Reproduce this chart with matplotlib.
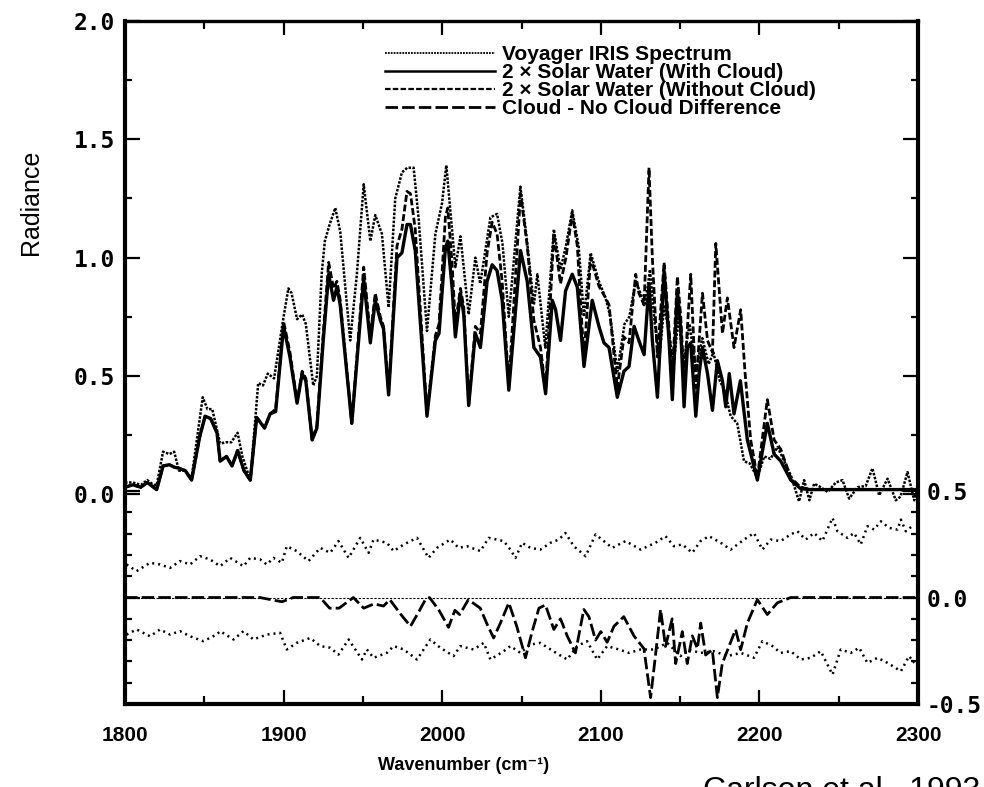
import numpy as np
import matplotlib
matplotlib.use("Agg")
import matplotlib.pyplot as plt
from matplotlib.lines import Line2D

# upper panel: radiance vs wavenumber (left axis)
iris = [
    (1800, 0.05), (1805, 0.05), (1810, 0.04), (1814, 0.06), (1818, 0.04), (1820, 0.04),
    (1824, 0.18), (1828, 0.17), (1831, 0.18), (1834, 0.10), (1838, 0.10), (1842, 0.07),
    (1849, 0.41), (1852, 0.36), (1855, 0.36), (1860, 0.215), (1864, 0.22), (1867, 0.22),
    (1871, 0.26), (1874, 0.16), (1879, 0.06), (1884, 0.47), (1887, 0.46), (1890, 0.51),
    (1894, 0.49), (1900, 0.75), (1903, 0.87), (1905, 0.85), (1908.5, 0.74), (1911.7, 0.76),
    (1914, 0.72), (1918.7, 0.46), (1921, 0.50), (1924, 0.93), (1926, 1.07), (1929, 1.14),
    (1932.6, 1.21), (1935.7, 1.11), (1942, 0.65), (1946.2, 0.93), (1950.5, 1.31),
    (1954.7, 1.07), (1957.8, 1.18), (1962, 1.10), (1966.2, 0.79), (1970.4, 1.25),
    (1974.6, 1.36), (1978, 1.38), (1982, 1.38), (1985.2, 1.16), (1990.4, 0.69),
    (1995.7, 1.10), (1999.9, 1.23), (2002.6, 1.39), (2005, 1.21), (2008.3, 0.96),
    (2011.5, 1.09), (2016.7, 0.76), (2020.9, 1.00), (2024, 0.89), (2030.4, 1.17),
    (2034.6, 1.185), (2038, 1.06), (2042, 0.75), (2049.3, 1.30), (2053, 1.10),
    (2057.8, 0.80), (2060, 0.93), (2065, 0.62), (2070.4, 1.12), (2074.6, 0.95),
    (2078, 1.05), (2082, 1.20), (2086, 1.05), (2089.4, 0.75), (2093.6, 1.02),
    (2098.8, 0.90), (2103, 0.83), (2106, 0.75), (2110.4, 0.52), (2115, 0.72),
    (2118, 0.75), (2122, 0.90), (2125, 0.85), (2128, 0.80), (2131, 0.95), (2134, 0.72),
    (2137, 0.58), (2140, 0.80), (2143, 0.68), (2146, 0.55), (2149, 0.75), (2152, 0.55),
    (2156, 0.72), (2160, 0.52), (2164, 0.66), (2168, 0.55), (2171, 0.60), (2175, 0.48),
    (2178, 0.44), (2181.9, 0.33), (2186, 0.30), (2190.3, 0.14), (2194, 0.13),
    (2198.7, 0.07), (2203, 0.16), (2207, 0.15), (2211.4, 0.20), (2215, 0.15),
    (2219.8, 0.08), (2225, -0.03), (2228.2, 0.06), (2231.5, -0.025), (2234.5, 0.045),
    (2238.7, 0.03), (2243, 0.01), (2248.2, 0.05), (2252.4, 0.06), (2256.6, -0.018),
    (2261.9, 0.03), (2267, 0.035), (2271.3, 0.11), (2275.5, -0.004), (2280.8, 0.066),
    (2286, -0.025), (2289, -0.01), (2293.4, 0.094), (2297.6, -0.025), (2300, 0.03),
]

with_cloud = [
    (1800, 0.03), (1805, 0.04), (1810, 0.03), (1814, 0.05), (1818, 0.03), (1820, 0.02),
    (1824, 0.12), (1828, 0.125), (1831, 0.115), (1834, 0.11), (1838, 0.10), (1842, 0.06),
    (1847, 0.24), (1850.5, 0.33), (1854, 0.32), (1858, 0.26), (1860, 0.14), (1864, 0.16),
    (1867.5, 0.12), (1871, 0.185), (1875, 0.10), (1879, 0.06), (1883, 0.325), (1888, 0.28),
    (1891.5, 0.34), (1895, 0.35), (1900, 0.71), (1904, 0.58), (1908.5, 0.385),
    (1911.7, 0.51), (1914, 0.48), (1918, 0.23), (1921, 0.28), (1925, 0.65), (1928.4, 0.93),
    (1931.5, 0.82), (1933.6, 0.875), (1935.7, 0.80), (1943, 0.30), (1950.5, 0.91),
    (1954.7, 0.64), (1957.8, 0.82), (1961, 0.735), (1963, 0.70), (1966.2, 0.42),
    (1971.5, 1.00), (1974.6, 1.02), (1977.8, 1.14), (1980, 1.14), (1983, 1.03),
    (1990.4, 0.33), (1995.7, 0.65), (1998, 0.68), (2002, 1.04), (2003.5, 1.07),
    (2006.2, 0.875), (2008.3, 0.665), (2011.5, 0.85), (2013.6, 0.76), (2016.7, 0.375),
    (2020.9, 0.68), (2024.1, 0.62), (2028.3, 0.90), (2031.5, 0.97), (2034.6, 0.945),
    (2037.8, 0.82), (2042, 0.44), (2049.4, 1.03), (2053.6, 0.90), (2057.8, 0.62),
    (2062, 0.58), (2065.2, 0.425), (2069.4, 0.82), (2071.5, 0.78), (2074.6, 0.65),
    (2077.8, 0.86), (2082, 0.93), (2085.2, 0.875), (2087.3, 0.71), (2089.4, 0.54),
    (2094.6, 0.82), (2098.8, 0.71), (2102, 0.64), (2105.2, 0.62), (2110.4, 0.41),
    (2114.6, 0.52), (2117.8, 0.54), (2121, 0.71), (2124, 0.65), (2127.3, 0.59),
    (2130.4, 0.89), (2132.5, 0.65), (2135.7, 0.41), (2139.9, 0.945), (2143, 0.65),
    (2145.1, 0.40), (2148.3, 0.86), (2150.4, 0.70), (2152.5, 0.37), (2154.6, 0.62),
    (2156.7, 0.64), (2159.9, 0.33), (2162, 0.51), (2164.1, 0.62), (2167.3, 0.51),
    (2170.4, 0.355), (2173.5, 0.565), (2176.7, 0.48), (2178.8, 0.37), (2181, 0.51),
    (2184, 0.34), (2188, 0.48), (2192.4, 0.23), (2198.7, 0.06), (2205, 0.30),
    (2209.3, 0.17), (2213.5, 0.14), (2219.8, 0.06), (2226, 0.024), (2232, 0.02),
    (2300, 0.02),
]

without_cloud = [
    (1800, 0.03), (1805, 0.04), (1810, 0.03), (1814, 0.05), (1818, 0.03), (1820, 0.02),
    (1824, 0.12), (1828, 0.125), (1831, 0.115), (1834, 0.11), (1838, 0.10), (1842, 0.06),
    (1847, 0.24), (1850.5, 0.33), (1854, 0.32), (1858, 0.26), (1860, 0.14), (1864, 0.16),
    (1867.5, 0.12), (1871, 0.185), (1875, 0.10), (1879, 0.06), (1883, 0.325), (1888, 0.28),
    (1891.5, 0.34), (1895, 0.36), (1900, 0.73), (1904, 0.60), (1908.5, 0.39),
    (1911.7, 0.52), (1914, 0.49), (1918, 0.23), (1921, 0.29), (1925, 0.68), (1928.4, 0.98),
    (1931.5, 0.87), (1933.6, 0.90), (1935.7, 0.82), (1943, 0.30), (1950.5, 0.96),
    (1954.7, 0.67), (1957.8, 0.85), (1961, 0.75), (1963, 0.71), (1966.2, 0.43),
    (1971.5, 1.05), (1974.6, 1.12), (1977.8, 1.28), (1980, 1.27), (1983, 1.12),
    (1990.4, 0.34), (1995.7, 0.67), (1998, 0.72), (2002, 1.17), (2003.5, 1.21),
    (2006.2, 0.98), (2008.3, 0.72), (2011.5, 0.87), (2013.6, 0.79), (2016.7, 0.38),
    (2020.9, 0.71), (2024.1, 0.68), (2028.3, 1.02), (2031.5, 1.15), (2034.6, 1.10),
    (2037.8, 0.90), (2042, 0.46), (2049.4, 1.27), (2053.6, 1.05), (2057.8, 0.735),
    (2062, 0.62), (2065.2, 0.44), (2070.4, 1.10), (2074.6, 0.89), (2078, 1.00),
    (2082, 1.185), (2085.2, 1.05), (2087.3, 0.80), (2089.4, 0.58), (2093.6, 1.00),
    (2098.8, 0.88), (2103, 0.83), (2105.2, 0.80), (2110.4, 0.45), (2114.6, 0.665),
    (2117.8, 0.64), (2122, 0.93), (2124, 0.85), (2127.3, 0.80), (2130.4, 1.38),
    (2132.5, 1.00), (2135.7, 0.58), (2139.9, 0.98), (2143, 0.70), (2145.1, 0.50),
    (2148.3, 0.92), (2150.4, 0.75), (2152.5, 0.48), (2156.7, 0.93), (2159.9, 0.45),
    (2164.1, 0.85), (2167.3, 0.65), (2170.4, 0.60), (2172.5, 1.06), (2176.7, 0.68),
    (2179.8, 0.83), (2184, 0.62), (2188.2, 0.78), (2191, 0.51), (2194.5, 0.23),
    (2198.7, 0.07), (2205, 0.40), (2209.3, 0.23), (2213.5, 0.19), (2219.8, 0.07),
    (2226, 0.03), (2232, 0.02), (2300, 0.02),
]

# lower panel (right axis): cloud minus no-cloud, and the two noise traces
difference = [
    (1800, 0.0), (1885, 0.0), (1899, -0.02), (1906, 0.0), (1923, 0.0), (1929, -0.05),
    (1935, -0.05), (1944, 0.0), (1950.5, -0.05), (1957, -0.03), (1963, -0.04),
    (1967, -0.01), (1974, -0.08), (1980, -0.135), (1985, -0.07), (1989.4, -0.01),
    (1992, 0.0), (1998, -0.06), (2004, -0.14), (2008, -0.06), (2011, -0.08),
    (2016.5, -0.01), (2024, -0.05), (2028, -0.12), (2032.4, -0.19), (2036.7, -0.12),
    (2042, -0.025), (2047, -0.135), (2052.5, -0.283), (2056.7, -0.16), (2061, -0.05),
    (2065.1, -0.035), (2070.4, -0.15), (2074.6, -0.10), (2078.8, -0.18), (2084, -0.26),
    (2089.3, -0.056), (2092.5, -0.09), (2096.7, -0.20), (2100, -0.16), (2104, -0.21),
    (2108.3, -0.135), (2114.5, -0.09), (2120.9, -0.18), (2127.2, -0.24), (2131.4, -0.47),
    (2134.5, -0.27), (2137.7, -0.056), (2140.8, -0.23), (2145, -0.10), (2147.2, -0.31),
    (2151.4, -0.16), (2154.5, -0.31), (2157.7, -0.18), (2160.9, -0.24), (2163, -0.12),
    (2166.1, -0.27), (2170.3, -0.245), (2173.5, -0.47), (2176.6, -0.31), (2180.8, -0.23),
    (2185, -0.15), (2188.2, -0.245), (2192.4, -0.12), (2198.7, -0.01), (2205, -0.08),
    (2211.3, -0.025), (2219.7, 0.0), (2300, 0.0),
]

noise_upper = [
    (1801, 0.155), (1807.3, 0.124), (1815.8, 0.163), (1822.1, 0.155), (1828.4, 0.139),
    (1834.7, 0.171), (1841, 0.155), (1847.3, 0.194), (1853.6, 0.179), (1860, 0.147),
    (1866.3, 0.186), (1874.7, 0.147), (1878.9, 0.186), (1885.2, 0.179), (1889.4, 0.155),
    (1893.6, 0.186), (1898.9, 0.163), (1902, 0.241), (1908.3, 0.218), (1915.7, 0.171),
    (1923.1, 0.233), (1929.4, 0.210), (1934.6, 0.265), (1941, 0.186), (1948.3, 0.280),
    (1953.6, 0.210), (1956.7, 0.272), (1965.1, 0.257), (1969.4, 0.218), (1975.7, 0.249),
    (1984.1, 0.280), (1991.4, 0.186), (1996.7, 0.233), (2005.1, 0.272), (2010.4, 0.233),
    (2015.6, 0.241), (2024.1, 0.218), (2029.3, 0.280), (2038.8, 0.265), (2043, 0.225),
    (2046.2, 0.186), (2050.4, 0.257), (2055.6, 0.233), (2061.9, 0.225), (2068.3, 0.257),
    (2073.5, 0.272), (2077.7, 0.303), (2083, 0.241), (2090.4, 0.194), (2096.7, 0.296),
    (2101.9, 0.265), (2107.2, 0.233), (2115.6, 0.265), (2125.1, 0.225), (2134.5, 0.257),
    (2140.8, 0.288), (2146.1, 0.241), (2151.4, 0.249), (2157.7, 0.210), (2162.9, 0.265),
    (2168.2, 0.288), (2175.6, 0.257), (2181.9, 0.225), (2190.3, 0.272), (2196.6, 0.303),
    (2201.9, 0.225), (2207.1, 0.272), (2213.4, 0.265), (2219.7, 0.296), (2224, 0.311),
    (2229.2, 0.272), (2234.5, 0.303), (2239.7, 0.265), (2246.1, 0.374), (2249.2, 0.311),
    (2255.5, 0.280), (2259.7, 0.303), (2263.9, 0.249), (2268.1, 0.335), (2272.3, 0.319),
    (2276.6, 0.358), (2281.8, 0.327), (2287.1, 0.319), (2289.2, 0.366), (2292.3, 0.311),
    (2297.6, 0.343),
]

noise_lower = [
    (1801, -0.174), (1807.3, -0.150), (1815.8, -0.182), (1822.1, -0.150), (1828.4, -0.174),
    (1834.7, -0.158), (1841, -0.182), (1849.4, -0.205), (1857.8, -0.174), (1860, -0.158),
    (1868.4, -0.197), (1874.7, -0.158), (1881, -0.197), (1889.4, -0.174), (1897.8, -0.166),
    (1902, -0.244), (1908.3, -0.213), (1916.8, -0.190), (1923.1, -0.228), (1929.4, -0.236),
    (1934.6, -0.268), (1941, -0.197), (1949.4, -0.291), (1952.5, -0.244), (1956.7, -0.283),
    (1965.1, -0.260), (1969.4, -0.228), (1975.7, -0.244), (1984.1, -0.291), (1992.5, -0.197),
    (1998.8, -0.236), (2007.2, -0.275), (2011.4, -0.228), (2019.8, -0.244), (2026.2, -0.213),
    (2030.4, -0.291), (2038.8, -0.252), (2043, -0.228), (2049.3, -0.260), (2055.6, -0.221),
    (2061.9, -0.213), (2068.3, -0.244), (2073.5, -0.268), (2078.8, -0.291), (2085.1, -0.228),
    (2091.4, -0.205), (2097.7, -0.291), (2104, -0.228), (2111.4, -0.244), (2117.7, -0.260),
    (2125.1, -0.244), (2133.5, -0.244), (2141.9, -0.213), (2150.3, -0.275), (2154.5, -0.244),
    (2162.9, -0.260), (2171.4, -0.252), (2179.8, -0.275), (2188.2, -0.260), (2196.6, -0.283),
    (2201.9, -0.205), (2208.2, -0.228), (2213.4, -0.260), (2219.7, -0.252), (2226.1, -0.291),
    (2232.4, -0.283), (2238.7, -0.252), (2246.1, -0.362), (2251.3, -0.244), (2257.6, -0.260),
    (2262.9, -0.236), (2268.1, -0.307), (2274.5, -0.283), (2280.8, -0.307), (2289.2, -0.346),
    (2294.4, -0.275), (2297.6, -0.307),
]

legend_labels = [
    "Voyager IRIS Spectrum",
    "2 \u00d7 Solar Water (With Cloud)",
    "2 \u00d7 Solar Water (Without Cloud)",
    "Cloud - No Cloud Difference",
]
left_ticks = [0.0, 0.5, 1.0, 1.5, 2.0]
right_ticks = [-0.5, 0.0, 0.5]
x_ticks = [1800, 1900, 2000, 2100, 2200, 2300]

sans = ["Liberation Sans", "DejaVu Sans"]
mono = "DejaVu Sans Mono"

# line styles
s_iris = dict(color="k", lw=1.8, ls=(0, (1.0, 0.6)))
s_cloud = dict(color="k", lw=2.4, ls="-")
s_nocloud = dict(color="k", lw=2.0, ls=(0, (2.5, 1.0)))
s_diff = dict(color="k", lw=2.0, ls=(0, (4.5, 1.5)))
s_noise = dict(color="k", lw=1.8, ls=(0, (0.8, 1.6)))

fig = plt.figure(figsize=(9.84, 7.87), dpi=100)
ax = fig.add_axes([125 / 984, 1 - 704 / 787, 793 / 984, 683 / 787])
ax2 = ax.twinx()

x, y = np.array(iris).T
ax.plot(x, y, **s_iris)
x, y = np.array(without_cloud).T
ax.plot(x, y, **s_nocloud)
x, y = np.array(with_cloud).T
ax.plot(x, y, **s_cloud)

ax2.axhline(0.0, color="k", lw=0.8, ls=(0, (2.0, 1.5)))
x, y = np.array(difference).T
ax2.plot(x, y, **s_diff)
x, y = np.array(noise_upper).T
ax2.plot(x, y, **s_noise)
x, y = np.array(noise_lower).T
ax2.plot(x, y, **s_noise)

ax.set_xlim(1800, 2300)
ax.set_ylim(-0.886, 2.0)
ax2.set_ylim(-0.5, 2.707)

for side in ["left", "right", "bottom"]:
    ax.spines[side].set_linewidth(3.0)
ax.spines["top"].set_linewidth(2.4)
for side in ax2.spines:
    ax2.spines[side].set_visible(False)

ax.set_xticks(x_ticks)
ax.set_xticks(np.arange(1850, 2300, 100), minor=True)
ax.set_xticklabels([str(t) for t in x_ticks], fontfamily=sans, fontweight="bold", fontsize=15)
ax.tick_params(axis="x", which="both", direction="in", top=True, bottom=True, width=1.6, pad=16)
ax.tick_params(axis="x", which="major", length=10)
ax.tick_params(axis="x", which="minor", length=6)

ax.set_yticks(left_ticks)
ax.set_yticks([0.25, 0.75, 1.25, 1.75], minor=True)
ax.set_yticklabels([f"{t:.1f}" for t in left_ticks], fontfamily=mono, fontweight="bold", fontsize=16.5)
ax.tick_params(axis="y", which="both", direction="in", left=True, right=True,
               labelleft=True, labelright=False, width=1.6, pad=7)
ax.tick_params(axis="y", which="major", length=11)
ax.tick_params(axis="y", which="minor", length=5)

ax2.set_yticks(right_ticks)
ax2.set_yticks([-0.4, -0.3, -0.2, -0.1, 0.1, 0.2, 0.3, 0.4], minor=True)
ax2.set_yticklabels([f"{t:.1f}" for t in right_ticks], fontfamily=mono, fontweight="bold", fontsize=16.5)
ax2.tick_params(axis="y", which="both", direction="in", left=True, right=True,
                labelleft=False, labelright=True, width=1.6, pad=6)
ax2.tick_params(axis="y", which="major", length=11)
ax2.tick_params(axis="y", which="minor", length=5)

handles = [Line2D([], [], **s) for s in (s_iris, s_cloud, s_nocloud, s_diff)]
handles[0].set_linewidth(1.3)
handles[1].set_linewidth(1.8)
handles[2].set_linewidth(1.6)
leg = fig.legend(handles, legend_labels, loc="upper left",
                 bbox_to_anchor=(385 / 984, 1 - 45 / 787), frameon=False,
                 borderpad=0, borderaxespad=0, handlelength=5.3, handletextpad=0.3,
                 labelspacing=-0.05, prop=dict(family=sans, weight="bold", size=15))

fig.text(31.5 / 984, 1 - 202 / 787, "Radiance", rotation=90, ha="center", va="center",
         family=sans, fontsize=18)
fig.text(464 / 984, 1 - 766 / 787, "Wavenumber (cm\u207b\u00b9)", ha="center", va="center",
         family=sans, fontweight="bold", fontsize=13)
fig.text(703 / 984, 1 - 776 / 787, "Carlson et al., 1993", ha="left", va="top",
         family=sans, fontsize=23)

fig.savefig("out.png", dpi=100)
